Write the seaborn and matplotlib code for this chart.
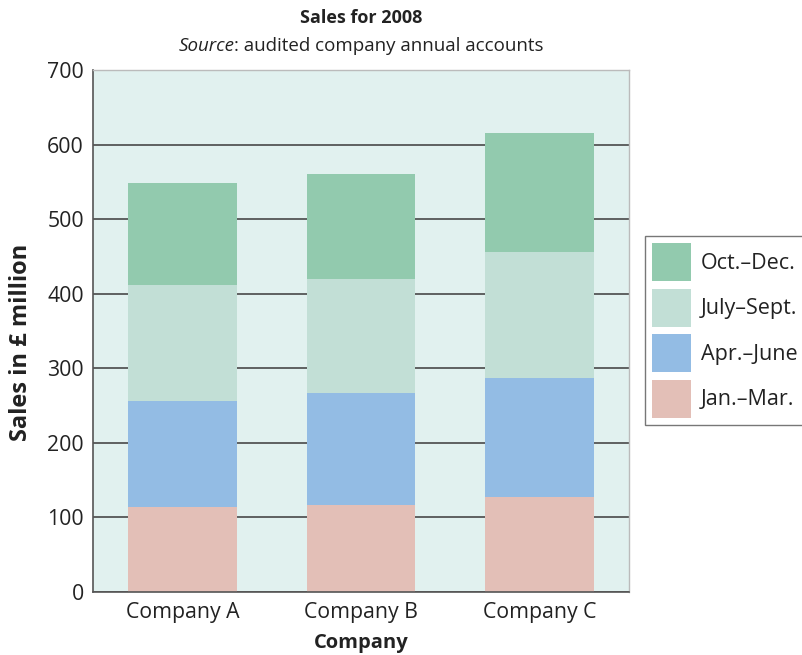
import numpy as np
import pandas as pd
import matplotlib
matplotlib.use("Agg")
import matplotlib.pyplot as plt
from matplotlib.patches import Patch
import seaborn as sns

# Quarterly sales (in £ million) for each company
companies = ["Company A", "Company B", "Company C"]
jan_mar = [114, 116, 128]
apr_june = [142, 151, 159]
july_sept = [156, 153, 169]
oct_dec = [136, 140, 159]

quarters = ["Jan.–Mar.", "Apr.–June", "July–Sept.", "Oct.–Dec."]
colors = ["#E3BFB7", "#93BCE4", "#C2DFD6", "#92CAAE"]
y_ticks = [0, 100, 200, 300, 400, 500, 600, 700]

sns.set_style("white")
plt.rcParams["font.family"] = ["Open Sans", "DejaVu Sans"]
TXT = "#222222"

fig = plt.figure(figsize=(8.02, 6.55), dpi=100)
ax = fig.add_axes([93 / 802, 1 - 592 / 655, (629 - 93) / 802, (592 - 70) / 655])
ax.set_facecolor("#E1F1EF")

# stacked bars: draw cumulative totals from the tallest layer down
layers = np.array([jan_mar, apr_june, july_sept, oct_dec])
cum = np.cumsum(layers, axis=0)
for i in range(len(quarters) - 1, -1, -1):
    df = pd.DataFrame({"company": companies, "total": cum[i]})
    sns.barplot(data=df, x="company", y="total", color=colors[i],
                width=0.61, saturation=1, ax=ax, zorder=2, linewidth=0)

ax.set_xlim(-0.5, 2.5)
ax.set_ylim(0, 700)
ax.set_yticks(y_ticks)
ax.set_yticklabels([str(v) for v in y_ticks], fontsize=15.3, color=TXT)

# category labels centred, tick marks at category boundaries
ax.set_xticks([-0.5, 0.5, 1.5, 2.5])
ax.set_xticklabels([])
ax.set_xticks([0, 1, 2], minor=True)
ax.set_xticklabels(companies, minor=True, fontsize=15.3, color=TXT)
ax.tick_params(axis="x", which="minor", length=0, pad=7)
ax.tick_params(axis="x", which="major", length=4.5, width=1, color="#555555", direction="out")
ax.tick_params(axis="y", length=4.5, width=1, color="#555555", direction="out", pad=2)

ax.set_axisbelow(True)
ax.yaxis.grid(True, color="#3a3a3a", linewidth=1.1)
ax.xaxis.grid(False)

for side in ["left", "bottom"]:
    ax.spines[side].set_color("#555555")
    ax.spines[side].set_linewidth(1.2)
for side in ["top", "right"]:
    ax.spines[side].set_visible(True)
    ax.spines[side].set_color("#bbbbbb")
    ax.spines[side].set_linewidth(1.0)

ax.set_xlabel("Company", fontsize=14.5, fontweight="bold", color=TXT)
ax.set_ylabel("Sales in £ million", fontsize=17, fontweight="bold", color=TXT)
ax.xaxis.set_label_coords(0.5, (592 - 643) / 522)
ax.xaxis.label.set_va("center")
ax.yaxis.set_label_coords((21 - 93) / 536, (592 - 342) / 522)
ax.yaxis.label.set_va("center")

# titles
cx = (93 + 629) / 2 / 802
fig.text(cx, 1 - 18 / 655, "Sales for 2008", ha="center", va="center",
         fontsize=13, fontweight="bold", color=TXT)
fig.canvas.draw()
renderer = fig.canvas.get_renderer()
t1 = fig.text(0, 1 - 46 / 655, "Source", ha="left", va="center",
              fontsize=13.5, style="italic", color=TXT)
t2 = fig.text(0, 1 - 46 / 655, ": audited company annual accounts", ha="left",
              va="center", fontsize=13.5, color=TXT)
w1 = t1.get_window_extent(renderer).width / fig.bbox.width
w2 = t2.get_window_extent(renderer).width / fig.bbox.width
start = cx - (w1 + w2) / 2
t1.set_x(start)
t2.set_x(start + w1)

# legend, top quarter first
handles = [Patch(facecolor=colors[i], edgecolor="none") for i in range(3, -1, -1)]
labels = [quarters[i] for i in range(3, -1, -1)]
leg = fig.legend(handles, labels, loc="upper left",
                 bbox_to_anchor=(645 / 802, 1 - 236 / 655),
                 fontsize=15.5, frameon=True, fancybox=False,
                 handlelength=1.8, handleheight=2.34, handletextpad=0.45,
                 labelspacing=0.35, borderpad=0.33, borderaxespad=0)
leg.get_frame().set_edgecolor("#555555")
leg.get_frame().set_linewidth(1.0)
for t in leg.get_texts():
    t.set_color(TXT)

fig.savefig("out.png", dpi=100, facecolor="white")
